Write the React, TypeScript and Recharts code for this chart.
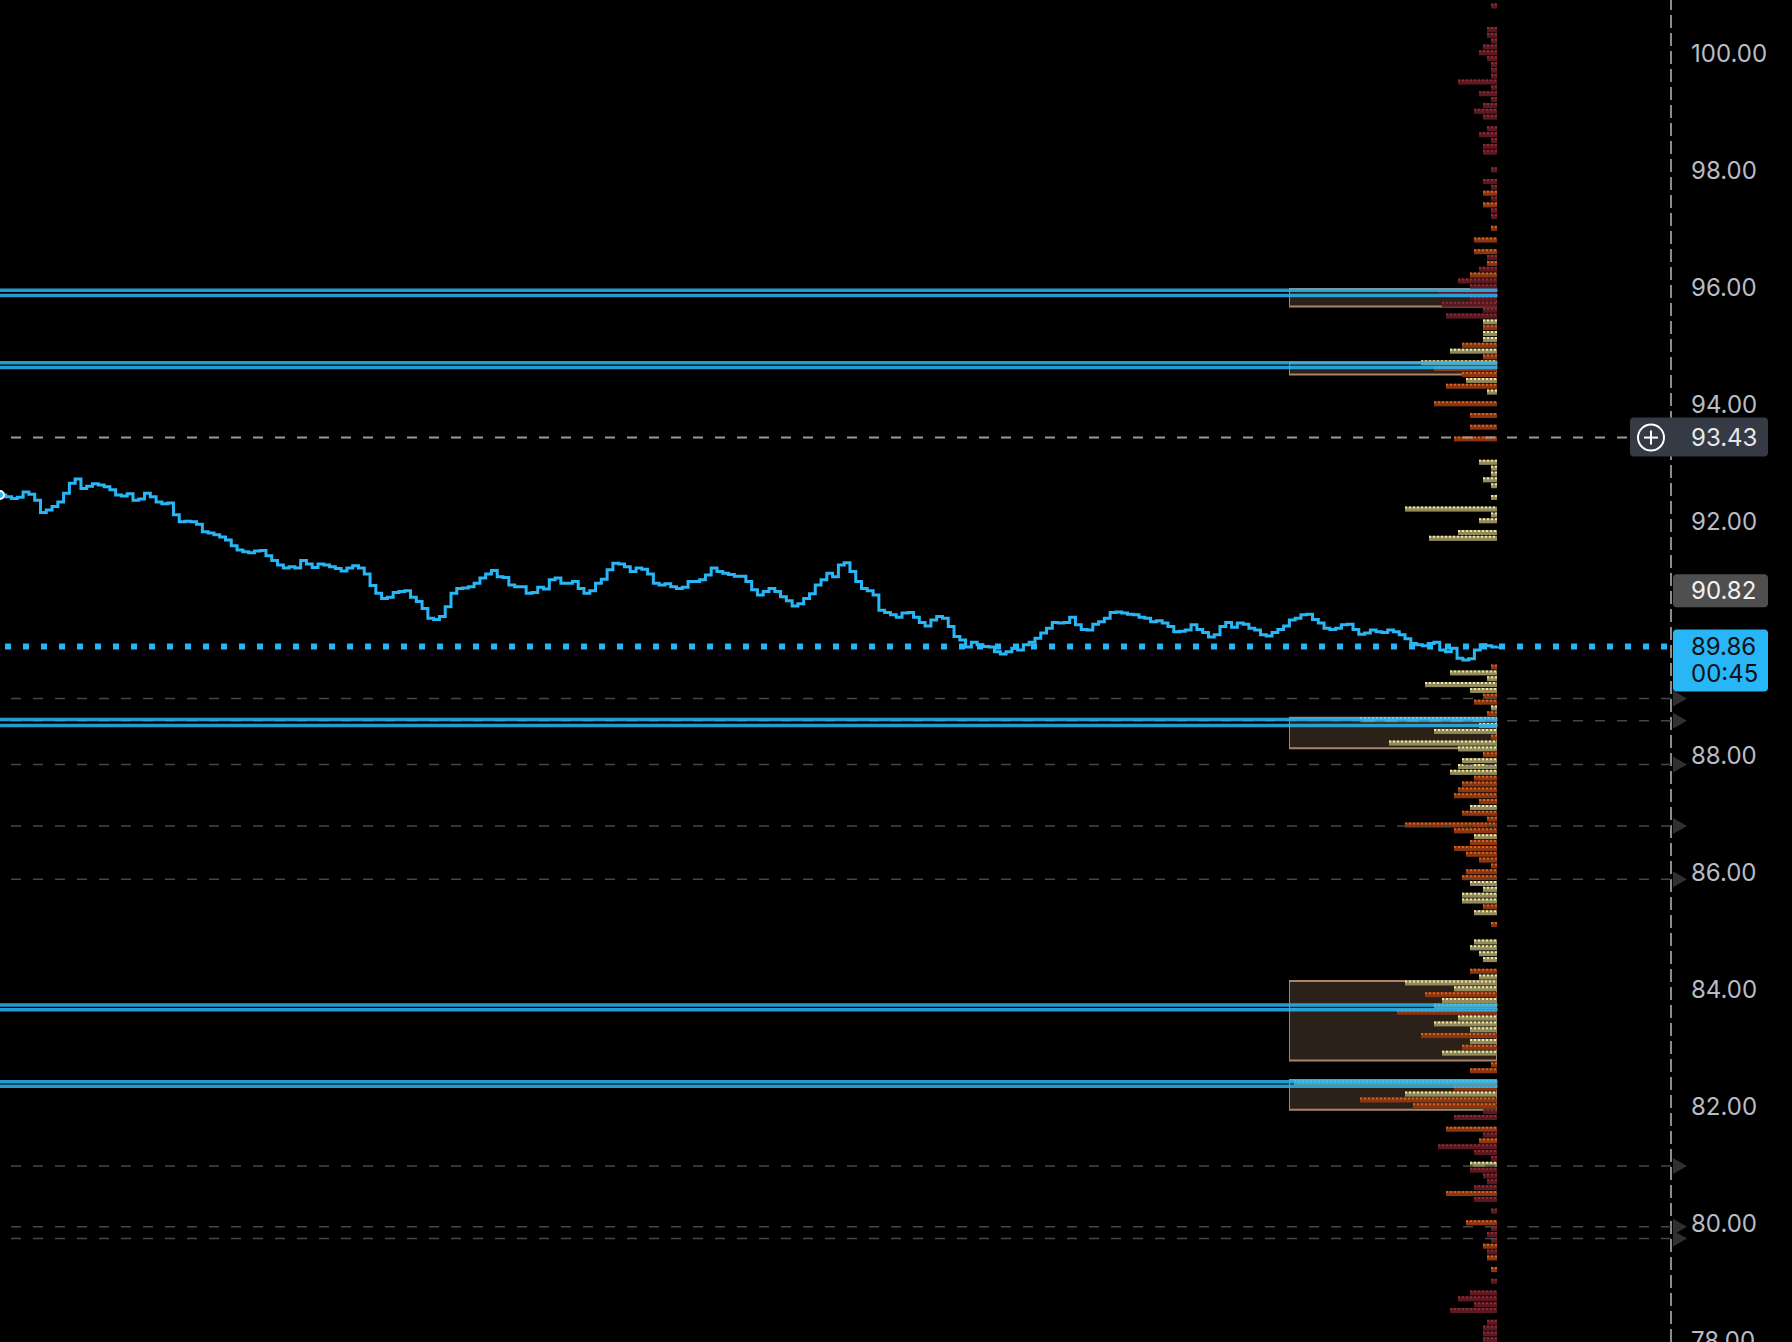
import {
  Bar,
  BarChart,
  Line,
  LineChart,
  ReferenceArea,
  ReferenceLine,
  XAxis,
  YAxis,
} from "recharts";

const WIDTH = 1792;
const HEIGHT = 1342;
const AXIS_WIDTH = 121;
const PRICE_DOMAIN: [number, number] = [77.97, 100.91];
const BLUE = "#29b6f6";
const FONT = "Inter, 'Noto Sans', sans-serif";

const priceTicks = [78, 80, 82, 84, 86, 88, 92, 94, 96, 98, 100];

const lastPrice = 89.86;
const countdown = "00:45";
const prevClose = 90.82;
const crosshairPrice = 93.43;

// drawn levels, each as a double line
const levelUpper = [95.95, 94.71, 88.61, 83.73, 82.42];
const levelLower = [95.86, 94.63, 88.51, 83.65, 82.34];

// alert lines (dashed, with marker on the axis)
const alertLevels = [88.97, 88.59, 87.84, 86.79, 85.88, 80.98, 79.94, 79.74];

// value area boxes of the volume profile
const valueAreaHigh = [95.97, 94.71, 88.64, 84.14, 82.45];
const valueAreaLow = [95.67, 94.51, 88.12, 82.78, 81.94];

// price, three chunks of the session
const sessionA = [
  92.45, 92.42, 92.39, 92.41, 92.5, 92.46, 92.36, 92.15, 92.19, 92.25,
  92.33, 92.48, 92.65, 92.72, 92.56, 92.6, 92.64, 92.62, 92.59, 92.54,
  92.45, 92.43, 92.47, 92.36, 92.38, 92.48, 92.42, 92.33, 92.3, 92.31,
  92.11, 91.99, 92.0, 91.99, 91.95, 91.82, 91.8, 91.77, 91.73, 91.68,
  91.58, 91.51, 91.48, 91.46, 91.49, 91.5, 91.41, 91.33, 91.25, 91.2,
  91.22, 91.2, 91.33, 91.27, 91.21, 91.27, 91.25, 91.22, 91.19, 91.15,
  91.2, 91.24, 91.2, 91.1, 90.9, 90.77, 90.68, 90.7, 90.78, 90.8,
  90.81, 90.7, 90.63, 90.51, 90.34, 90.32, 90.37, 90.54, 90.77, 90.85,
  90.86, 90.88, 90.94, 91.03, 91.1, 91.16, 91.05,
];
const sessionB = [
  91.04, 90.91, 90.88, 90.88, 90.77, 90.78, 90.87, 90.84, 91.0, 91.03,
  90.94, 90.94, 90.97, 90.85, 90.77, 90.81, 90.94, 91.01, 91.17, 91.28,
  91.27, 91.22, 91.14, 91.2, 91.18, 91.1, 90.94, 90.91, 90.93, 90.88,
  90.85, 90.87, 90.97, 90.97, 91.0, 91.08, 91.2, 91.14, 91.11, 91.09,
  91.06, 91.06, 90.97, 90.83, 90.74, 90.8, 90.85, 90.8, 90.71, 90.64,
  90.55, 90.59, 90.68, 90.76, 90.91, 91.0, 91.11, 91.05, 91.25, 91.29,
  91.14, 90.97, 90.85, 90.81, 90.74, 90.48, 90.44, 90.4, 90.36, 90.43,
  90.44, 90.36, 90.27, 90.21, 90.31, 90.37, 90.34, 90.2, 90.03, 89.97,
  89.85, 89.93, 89.89, 89.86, 89.85, 89.77, 89.73,
];
const sessionC = [
  89.77, 89.83, 89.8, 89.89, 89.93, 90.0, 90.09, 90.17, 90.27, 90.26,
  90.27, 90.36, 90.23, 90.15, 90.14, 90.24, 90.28, 90.34, 90.44, 90.45,
  90.43, 90.41, 90.4, 90.36, 90.34, 90.28, 90.3, 90.26, 90.2, 90.11,
  90.12, 90.14, 90.23, 90.15, 90.1, 90.02, 90.06, 90.2, 90.27, 90.19,
  90.26, 90.24, 90.17, 90.14, 90.06, 90.04, 90.1, 90.15, 90.21, 90.31,
  90.34, 90.4, 90.41, 90.32, 90.26, 90.17, 90.15, 90.17, 90.23, 90.24,
  90.15, 90.07, 90.09, 90.14, 90.11, 90.1, 90.14, 90.11, 90.06, 89.99,
  89.91, 89.89, 89.87, 89.91, 89.93, 89.8, 89.77, 89.83, 89.66, 89.63,
  89.65, 89.8, 89.89, 89.87, 89.85, 89.86,
];

// volume profile, one row per 0.10 from the top
const PROFILE_TOP = 100.8;
const PROFILE_STEP = 0.1;
const profileVolume = [
  6, 0, 0, 0, 10, 10, 6, 14, 18, 10,
  6, 6, 6, 39, 6, 18, 6, 14, 23, 14,
  0, 10, 18, 6, 14, 14, 0, 0, 6, 0,
  14, 6, 14, 6, 14, 6, 6, 0, 6, 0,
  23, 0, 23, 10, 10, 18, 27, 39, 27, 59,
  27, 55, 14, 51, 14, 14, 14, 14, 35, 47,
  14, 76, 63, 35, 31, 51, 10, 0, 63, 0,
  27, 0, 27, 0, 43, 0, 0, 0, 18, 6,
  6, 14, 6, 0, 6, 0, 92, 6, 18, 0,
  39, 68, 0, 0, 0, 0, 0, 0, 0, 0,
  0, 0, 0, 0, 0, 0, 0, 0, 0, 0,
  0, 0, 0, 6, 47, 10, 72, 27, 14, 23,
  6, 10, 137, 18, 63, 6, 108, 39, 14, 35,
  39, 47, 23, 35, 39, 43, 18, 27, 35, 10,
  92, 43, 23, 27, 43, 31, 18, 6, 31, 35,
  27, 14, 35, 35, 14, 23, 0, 6, 0, 0,
  23, 27, 18, 14, 0, 27, 18, 92, 43, 72,
  55, 63, 100, 39, 63, 27, 76, 27, 35, 55,
  0, 6, 27, 0, 203, 43, 92, 137, 84, 14,
  43, 0, 51, 14, 18, 59, 23, 6, 27, 27,
  14, 10, 23, 51, 23, 0, 6, 0, 31, 6,
  10, 6, 14, 10, 10, 0, 6, 0, 6, 0,
  27, 39, 23, 47, 0, 10, 14, 14, 14,
];
// R = sell heavy, O = mixed, T = buy heavy
const profileSide = [
  "R...RRRRRR", "RRRRRRRRRR", ".RRRRR..R.", "RRORORR.O.", "O.ORORORRR",
  "RRRRTOTTOT", "OTOOTOT.O.", "O.O.O...TT", "TTT.T.TTT.", "TT........",
  "..........", "...OTTTTOO", "TOTTTOTTOT", "TTOOOOOTOO", "OOTOOOOOOO",
  "TTTTOT.O..", "TTTT.OTTTO", "TTOTTTOTOT", ".OO.TOTOOR", "R.ORORRRTR",
  "RRROR.R.OR", "RRORO.O.R.", "RRRR.RRRR",
].join("");

const SIDE_FILL: Record<string, string> = { R: "#5a1820", O: "#8a3612", T: "#918a5c" };
const SIDE_DOT: Record<string, string> = { R: "#8e2a35", O: "#d2621f", T: "#efe59c" };

const candles = [...sessionA, ...sessionB, ...sessionC].map((p, i) => ({ i, p }));
const lastIndex = candles.length - 1;
const RIGHT_PAD_BARS = 30;

const profileRows = profileVolume.map((vol, i) => ({
  price: +(PROFILE_TOP - i * PROFILE_STEP).toFixed(2),
  vol,
  side: profileSide[i],
}));

const PROFILE_LEFT = 1289;
const PROFILE_WIDTH = 208;

function ProfileBar(props: any) {
  const { x, y, width, height, payload } = props;
  if (!width || !payload || payload.side === ".") return null;
  const left = Math.min(x, x + width);
  const w = Math.abs(width);
  return (
    <g>
      <rect x={left} y={y} width={w} height={height} fill={SIDE_FILL[payload.side]} />
      <line
        x1={left}
        x2={left + w}
        y1={y + 1}
        y2={y + 1}
        stroke={SIDE_DOT[payload.side]}
        strokeWidth={2}
        strokeDasharray="2 2"
      />
    </g>
  );
}

function PriceTag(props: any) {
  const { viewBox, text, sub, bg, color, withIcon, top, h } = props;
  if (!viewBox) return null;
  const ax = viewBox.x + viewBox.width;
  const y = viewBox.y;
  const left = withIcon ? ax - 41 : ax + 2;
  return (
    <g>
      <rect x={left} y={y - top} width={ax + 97 - left} height={h} rx={4} fill={bg} />
      {withIcon && (
        <g stroke="#ffffff" strokeWidth={2} fill="none">
          <circle cx={ax - 20} cy={y} r={13} />
          <line x1={ax - 27} x2={ax - 13} y1={y} y2={y} />
          <line x1={ax - 20} x2={ax - 20} y1={y - 7} y2={y + 7} />
        </g>
      )}
      <text x={ax + 20} y={y} dominantBaseline="central" fill={color} fontSize={24} fontFamily={FONT}>
        {text}
      </text>
      {sub && (
        <text x={ax + 20} y={y + 27} dominantBaseline="central" fill={color} fontSize={24} fontFamily={FONT}>
          {sub}
        </text>
      )}
    </g>
  );
}

function AlertMarker(props: any) {
  const { viewBox } = props;
  if (!viewBox) return null;
  const ax = viewBox.x + viewBox.width;
  const y = viewBox.y;
  return <polygon points={`${ax + 2},${y - 8} ${ax + 16},${y} ${ax + 2},${y + 8}`} fill="#303030" />;
}

export default function App() {
  return (
    <div
      style={{
        position: "fixed",
        top: 0,
        left: 0,
        width: WIDTH,
        height: HEIGHT,
        background: "#000",
        overflow: "hidden",
      }}
    >
      {/* volume profile sits under the price chart */}
      <div style={{ position: "absolute", left: PROFILE_LEFT, top: 0 }}>
        <BarChart
          width={PROFILE_WIDTH}
          height={HEIGHT}
          data={profileRows}
          layout="vertical"
          margin={{ top: 0, right: 0, bottom: 0, left: 0 }}
        >
          <XAxis type="number" domain={[0, PROFILE_WIDTH]} reversed hide />
          <YAxis type="number" dataKey="price" domain={PRICE_DOMAIN} allowDataOverflow reversed hide />
          {valueAreaHigh.map((hi, k) => (
            <ReferenceArea
              key={k}
              y1={valueAreaLow[k]}
              y2={hi}
              fill="#2b2118"
              fillOpacity={1}
              stroke="#a88468"
              strokeWidth={2}
              ifOverflow="visible"
            />
          ))}
          <Bar dataKey="vol" barSize={5} shape={<ProfileBar />} isAnimationActive={false} />
        </BarChart>
      </div>

      <div style={{ position: "absolute", left: 0, top: 0 }}>
        <LineChart
          width={WIDTH}
          height={HEIGHT}
          data={candles}
          margin={{ top: 0, right: 0, bottom: 0, left: 0 }}
        >
          <XAxis type="number" dataKey="i" domain={[0, lastIndex + RIGHT_PAD_BARS]} hide />
          <YAxis
            orientation="right"
            width={AXIS_WIDTH}
            domain={PRICE_DOMAIN}
            allowDataOverflow
            ticks={priceTicks}
            interval={0}
            axisLine={false}
            tickLine={false}
            tickSize={0}
            tickMargin={20}
            tick={{ fill: "#b8bcc4", fontSize: 24, fontFamily: FONT }}
            tickFormatter={(v: number) => v.toFixed(2)}
          />

          <ReferenceLine
            x={lastIndex + RIGHT_PAD_BARS}
            stroke="#8c8c8c"
            strokeWidth={2}
            strokeDasharray="13 5"
          />

          {alertLevels.map((v) => (
            <ReferenceLine
              key={"a" + v}
              y={v}
              stroke="#474747"
              strokeWidth={1.5}
              strokeDasharray="10 12"
              label={<AlertMarker />}
            />
          ))}

          {[...levelUpper, ...levelLower].map((v) => (
            <ReferenceLine
              key={"l" + v}
              segment={[
                { x: 0, y: v },
                { x: lastIndex, y: v },
              ]}
              stroke={BLUE}
              strokeOpacity={0.85}
              strokeWidth={3.5}
            />
          ))}

          <ReferenceLine
            y={crosshairPrice}
            stroke="#9a9a9a"
            strokeWidth={2}
            strokeDasharray="10 12"
            label={<PriceTag text={crosshairPrice.toFixed(2)} bg="#363a45" color="#e8e8e8" withIcon top={20} h={39} />}
          />
          <ReferenceLine
            y={prevClose}
            stroke="none"
            strokeOpacity={0}
            label={<PriceTag text={prevClose.toFixed(2)} bg="#4f4f4f" color="#f2f2f2" top={16} h={33} />}
          />
          <ReferenceLine
            y={lastPrice}
            stroke={BLUE}
            strokeWidth={6}
            strokeDasharray="6 12"
            strokeDashoffset={-4}
            label={<PriceTag text={lastPrice.toFixed(2)} sub={countdown} bg={BLUE} color="#0d1117" top={17} h={62} />}
          />

          <Line
            type="stepAfter"
            dataKey="p"
            stroke={BLUE}
            strokeWidth={3}
            dot={false}
            isAnimationActive={false}
          />
        </LineChart>
      </div>
    </div>
  );
}
